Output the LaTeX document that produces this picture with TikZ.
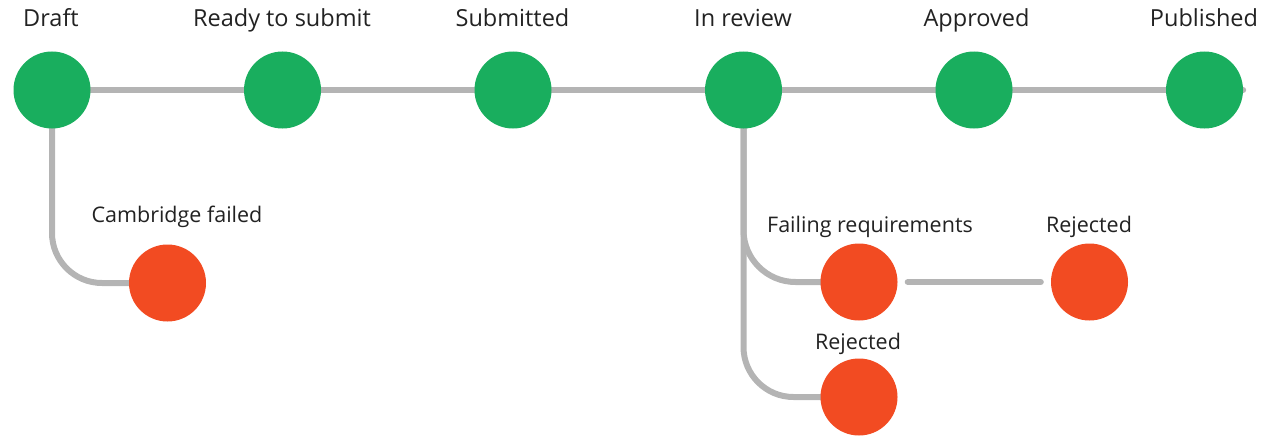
\documentclass[tikz,border=0pt]{standalone}
\usepackage{fontspec}
\setmainfont{Open Sans}
\usetikzlibrary{backgrounds}
\definecolor{okgreen}{HTML}{19AE5E}
\definecolor{badred}{HTML}{F24B22}
\definecolor{conngray}{HTML}{B4B4B4}
\definecolor{txt}{HTML}{222222}
\begin{document}
\begin{tikzpicture}[x=1pt,y=-1pt,
  stnode/.style={circle,minimum size=77pt,inner sep=0pt,draw=none},
  okstate/.style={stnode,fill=okgreen},
  badstate/.style={stnode,fill=badred},
  toplabel/.style={anchor=base,inner sep=0pt,text=txt,font=\fontsize{23.5}{26}\selectfont},
  sublabel/.style={anchor=base,inner sep=0pt,text=txt,font=\fontsize{21.5}{24}\selectfont},
  conn/.style={draw=conngray,line width=6pt,line cap=round}]
\useasboundingbox (0,0) rectangle (1268,436);
% main states
\node[okstate] (draft) at (52,90) {};
\node[okstate] (ready) at (282.5,90) {};
\node[okstate] (sub) at (513,90) {};
\node[okstate] (rev) at (743.5,90) {};
\node[okstate] (appr) at (974,90) {};
\node[okstate] (pub) at (1204.5,90) {};
% failure states
\node[badstate] (cam) at (167.5,283) {};
\node[badstate] (fail) at (859,282) {};
\node[badstate] (rejA) at (1089.5,282) {};
\node[badstate] (rejB) at (859,397) {};
% labels
\node[toplabel] (ldraft) at (51,27) {Draft};
\node[toplabel] (lready) at (282,27) {Ready to submit};
\node[toplabel] (lsub) at (512.5,27) {Submitted};
\node[toplabel] (lrev) at (743,27) {In review};
\node[toplabel] (lappr) at (976.5,27) {Approved};
\node[toplabel] (lpub) at (1204,27) {Published};
\node[sublabel] (lcam) at (177,222) {Cambridge failed};
\node[sublabel] (lfail) at (870,232) {Failing requirements};
\node[sublabel] (lrejA) at (1089,232) {Rejected};
\node[sublabel] (lrejB) at (858,349) {Rejected};
% connectors
\begin{scope}[on background layer]
\draw[conn] (draft.center) -- (pub.east);
\draw[conn,rounded corners=50pt] (draft.center) |- (cam.center);
\draw[conn,rounded corners=52pt] (rev.center) |- (fail.center);
\draw[conn,rounded corners=50pt] (rev.center) |- (rejB.center);
\end{scope}
\draw[conn,shorten <=10pt,shorten >=10pt] (fail.east) -- (rejA.west);
\end{tikzpicture}
\end{document}
